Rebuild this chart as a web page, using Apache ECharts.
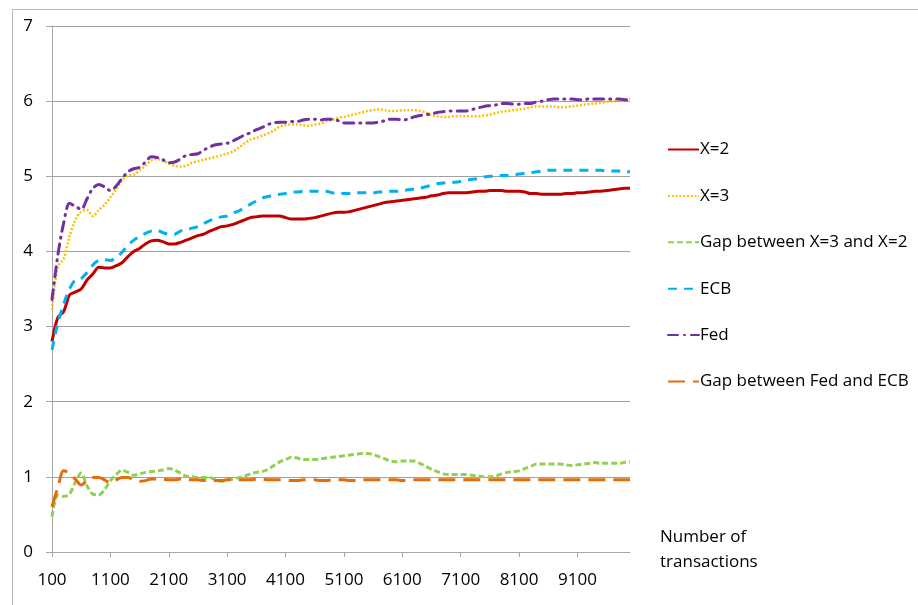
<!DOCTYPE html>
<html>
<head>
<meta charset="utf-8">
<script src="https://cdn.jsdelivr.net/npm/echarts@6/dist/echarts.min.js"></script>
<style>
html,body{margin:0;padding:0;background:#fff;}
#chart{width:918px;height:605px;}
</style>
</head>
<body>
<div id="chart"></div>
<script>
// Categories: number of transactions, 100 .. 10000 step 100
var categories = [];
for (var i = 1; i <= 100; i++) categories.push(String(i * 100));

var seriesNames = ['X=2', 'X=3', 'Gap between X=3 and X=2', 'ECB', 'Fed', 'Gap between Fed and ECB'];
var yTicks = [0, 1, 2, 3, 4, 5, 6, 7];

var x2 = [
  2.80, 3.12, 3.20, 3.42, 3.46, 3.50, 3.62, 3.70, 3.79, 3.78,
  3.78, 3.81, 3.85, 3.93, 4.00, 4.04, 4.10, 4.14, 4.15, 4.13,
  4.10, 4.10, 4.12, 4.15, 4.18, 4.21, 4.23, 4.27, 4.30, 4.33,
  4.34, 4.36, 4.39, 4.42, 4.45, 4.46, 4.47, 4.47, 4.47, 4.47,
  4.45, 4.43, 4.43, 4.43, 4.44, 4.45, 4.47, 4.49, 4.51, 4.52,
  4.52, 4.53, 4.55, 4.57, 4.59, 4.61, 4.63, 4.65, 4.66, 4.67,
  4.68, 4.69, 4.70, 4.71, 4.72, 4.74, 4.75, 4.77, 4.78, 4.78,
  4.78, 4.78, 4.79, 4.80, 4.80, 4.81, 4.81, 4.81, 4.80, 4.80,
  4.80, 4.79, 4.77, 4.77, 4.76, 4.76, 4.76, 4.76, 4.77, 4.77,
  4.78, 4.78, 4.79, 4.80, 4.80, 4.81, 4.82, 4.83, 4.84, 4.84
];
var x3 = [
  3.22, 3.80, 3.90, 4.20, 4.42, 4.53, 4.55, 4.47, 4.55, 4.62,
  4.72, 4.83, 4.95, 5.01, 5.02, 5.08, 5.14, 5.21, 5.23, 5.21,
  5.17, 5.14, 5.13, 5.14, 5.18, 5.20, 5.22, 5.24, 5.26, 5.28,
  5.30, 5.33, 5.38, 5.44, 5.49, 5.51, 5.54, 5.57, 5.61, 5.66,
  5.68, 5.69, 5.69, 5.68, 5.67, 5.69, 5.70, 5.73, 5.75, 5.78,
  5.79, 5.81, 5.83, 5.85, 5.87, 5.88, 5.89, 5.88, 5.87, 5.87,
  5.88, 5.88, 5.88, 5.87, 5.85, 5.81, 5.80, 5.79, 5.79, 5.80,
  5.80, 5.80, 5.80, 5.80, 5.81, 5.82, 5.84, 5.86, 5.87, 5.88,
  5.89, 5.90, 5.92, 5.93, 5.93, 5.93, 5.93, 5.92, 5.92, 5.93,
  5.94, 5.95, 5.96, 5.97, 5.98, 5.99, 6.00, 6.00, 6.01, 6.03
];
var gapX = [
  0.47, 0.76, 0.74, 0.77, 0.93, 1.05, 0.88, 0.77, 0.76, 0.83,
  0.95, 1.03, 1.09, 1.06, 1.02, 1.04, 1.06, 1.07, 1.08, 1.09,
  1.11, 1.09, 1.05, 1.01, 1.00, 0.99, 0.99, 0.99, 0.96, 0.94,
  0.96, 0.97, 0.99, 1.01, 1.04, 1.06, 1.07, 1.10, 1.15, 1.20,
  1.23, 1.26, 1.25, 1.23, 1.23, 1.23, 1.24, 1.25, 1.26, 1.27,
  1.28, 1.29, 1.30, 1.31, 1.31, 1.30, 1.27, 1.24, 1.21, 1.20,
  1.21, 1.21, 1.21, 1.18, 1.14, 1.10, 1.07, 1.04, 1.03, 1.03,
  1.03, 1.03, 1.02, 1.01, 1.00, 1.00, 1.01, 1.04, 1.06, 1.07,
  1.08, 1.11, 1.14, 1.17, 1.17, 1.17, 1.17, 1.17, 1.16, 1.15,
  1.16, 1.17, 1.18, 1.19, 1.18, 1.18, 1.18, 1.18, 1.19, 1.20
];
var ecb = [
  2.69, 3.05, 3.30, 3.50, 3.62, 3.64, 3.72, 3.82, 3.88, 3.89,
  3.88, 3.92, 3.99, 4.08, 4.15, 4.20, 4.24, 4.27, 4.28, 4.25,
  4.23, 4.23, 4.27, 4.29, 4.31, 4.33, 4.37, 4.41, 4.44, 4.46,
  4.47, 4.51, 4.54, 4.58, 4.63, 4.67, 4.71, 4.73, 4.75, 4.76,
  4.77, 4.79, 4.79, 4.80, 4.80, 4.80, 4.80, 4.80, 4.78, 4.77,
  4.77, 4.77, 4.78, 4.78, 4.78, 4.78, 4.79, 4.79, 4.80, 4.80,
  4.81, 4.82, 4.83, 4.84, 4.86, 4.88, 4.90, 4.91, 4.92, 4.92,
  4.93, 4.95, 4.96, 4.97, 4.99, 5.00, 5.00, 5.01, 5.01, 5.02,
  5.03, 5.04, 5.05, 5.06, 5.07, 5.08, 5.08, 5.08, 5.08, 5.08,
  5.08, 5.08, 5.08, 5.08, 5.08, 5.07, 5.07, 5.07, 5.06, 5.06
];
var fed = [
  3.36, 3.95, 4.38, 4.64, 4.60, 4.56, 4.70, 4.84, 4.89, 4.86,
  4.81, 4.87, 4.97, 5.06, 5.10, 5.12, 5.19, 5.26, 5.25, 5.22,
  5.18, 5.19, 5.23, 5.28, 5.29, 5.30, 5.35, 5.39, 5.42, 5.43,
  5.44, 5.47, 5.51, 5.55, 5.58, 5.62, 5.65, 5.69, 5.71, 5.72,
  5.72, 5.73, 5.73, 5.75, 5.76, 5.76, 5.75, 5.76, 5.76, 5.74,
  5.71, 5.71, 5.71, 5.71, 5.71, 5.71, 5.72, 5.74, 5.76, 5.76,
  5.75, 5.76, 5.79, 5.81, 5.82, 5.83, 5.85, 5.86, 5.87, 5.87,
  5.87, 5.87, 5.89, 5.91, 5.93, 5.94, 5.95, 5.97, 5.97, 5.96,
  5.96, 5.97, 5.97, 5.99, 6.00, 6.02, 6.03, 6.03, 6.03, 6.03,
  6.02, 6.02, 6.03, 6.03, 6.03, 6.03, 6.03, 6.03, 6.02, 6.02
];
var gapFed = [
  0.60, 0.86, 1.08, 1.05, 0.97, 0.89, 0.95, 0.99, 0.99, 0.96,
  0.92, 0.96, 0.99, 0.99, 0.96, 0.94, 0.95, 0.97, 0.97, 0.97,
  0.96, 0.96, 0.97, 0.97, 0.96, 0.96, 0.95, 0.95, 0.95, 0.95,
  0.96, 0.96, 0.96, 0.96, 0.96, 0.97, 0.97, 0.96, 0.96, 0.96,
  0.96, 0.95, 0.95, 0.96, 0.96, 0.96, 0.95, 0.95, 0.96, 0.96,
  0.96, 0.95, 0.95, 0.96, 0.96, 0.96, 0.96, 0.96, 0.96, 0.96,
  0.95, 0.95, 0.96, 0.96, 0.96, 0.96, 0.96, 0.96, 0.96, 0.96,
  0.96, 0.96, 0.96, 0.96, 0.96, 0.96, 0.96, 0.96, 0.96, 0.96,
  0.96, 0.96, 0.96, 0.96, 0.96, 0.96, 0.96, 0.96, 0.96, 0.96,
  0.96, 0.96, 0.96, 0.96, 0.96, 0.96, 0.96, 0.96, 0.96, 0.96
];

var FONT = 'Open Sans';
var FS = 17;
var chart = echarts.init(document.getElementById('chart'), null, {renderer: 'canvas'});

function line(name, data, color, width, dash, cap) {
  return {
    name: name, type: 'line', data: data, symbol: 'none', smooth: 0.3,
    lineStyle: {color: color, width: width, type: dash, cap: cap || 'butt'},
    itemStyle: {color: color},
    emphasis: {disabled: true}, animation: false
  };
}

chart.setOption({
  backgroundColor: '#fff',
  animation: false,
  textStyle: {fontFamily: FONT},
  grid: {left: 52, right: 288, top: 26, bottom: 53, containLabel: false},
  xAxis: {
    type: 'category', data: categories, boundaryGap: false,
    axisLine: {show: true, lineStyle: {color: '#a6a6a6', width: 1}},
    axisTick: {show: true, interval: 9, length: 5, lineStyle: {color: '#a6a6a6'}},
    axisLabel: {interval: 9, margin: 20, color: '#000', fontSize: FS, fontFamily: FONT},
    splitLine: {show: false}
  },
  yAxis: {
    type: 'value', min: yTicks[0], max: yTicks[yTicks.length - 1], interval: 1,
    axisLine: {show: true, lineStyle: {color: '#a6a6a6', width: 1}},
    axisTick: {show: true, length: 6, lineStyle: {color: '#a6a6a6'}},
    axisLabel: {margin: 19, color: '#000', fontSize: FS, fontFamily: FONT},
    splitLine: {show: true, lineStyle: {color: '#a0a0a0', width: 1}}
  },
  legend: {
    orient: 'vertical', left: 662, top: 136,
    itemWidth: 31, itemHeight: 12, itemGap: 29.4,
    itemStyle: {opacity: 0, borderWidth: 0},
    textStyle: {fontSize: FS, color: '#000', fontFamily: FONT, padding: [0, 0, 0, -4]},
    data: seriesNames
  },
  graphic: [
    {type: 'rect', left: 10, top: 7, shape: {width: 1000, height: 1000}, style: {fill: 'none', stroke: '#b5b5b5', lineWidth: 1}, silent: true, z: -1},
    {type: 'text', left: 660, top: 525, style: {text: 'Number of\ntransactions', font: FS + 'px "Open Sans"', fill: '#000', lineHeight: 25}}
  ],
  series: [
    line(seriesNames[0], x2, '#C00000', 3, 'solid'),
    line(seriesNames[1], x3, '#FFC000', 2.5, [2, 1.8]),
    line(seriesNames[2], gapX, '#92D050', 3, [6, 3]),
    line(seriesNames[3], ecb, '#00B0F0', 3, [9, 7]),
    line(seriesNames[4], fed, '#7030A0', 3, [10, 6, 1, 6], 'round'),
    line(seriesNames[5], gapFed, '#E46C0A', 3, [17, 8])
  ]
});
</script>
</body>
</html>
